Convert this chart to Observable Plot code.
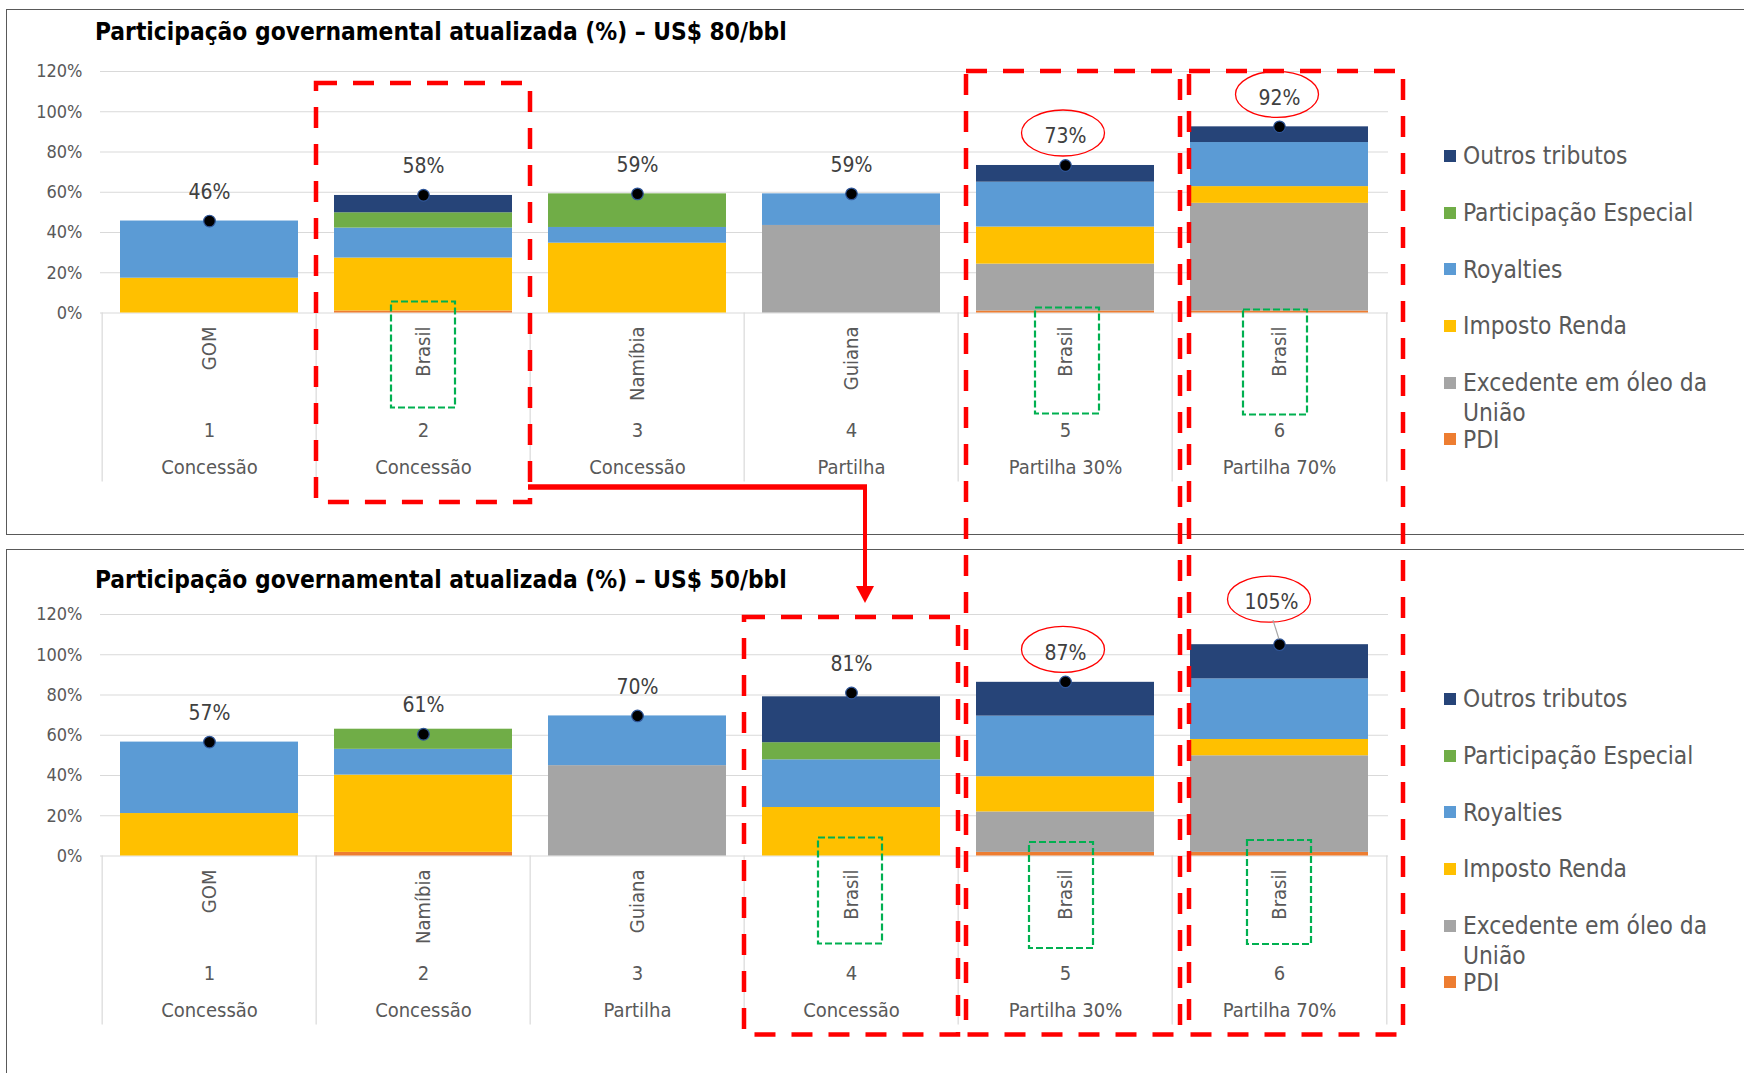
<!DOCTYPE html>
<html>
<head>
<meta charset="utf-8">
<script src="https://cdn.jsdelivr.net/npm/d3@7"></script>
<script src="https://cdn.jsdelivr.net/npm/@observablehq/plot@0.6"></script>
<style>
  body { margin: 0; background: #fff; }
  #page { position: relative; width: 1744px; height: 1073px; overflow: hidden; background: #fff;
          font-family: "DejaVu Sans Condensed", "DejaVu Sans", sans-serif; }
  .panel { position: absolute; border: 1.5px solid #595959; box-sizing: border-box; }
  .title { position: absolute; left: 95px; font-weight: bold; font-size: 24.3px; line-height: 28px;
           color: #000; white-space: nowrap; }
  .chart { position: absolute; left: 0; }
  .legend-item { position: absolute; left: 1444px; width: 281px; padding-left: 19px; box-sizing: border-box;
                 font-size: 24.3px; line-height: 29.7px; color: #595959; }
  .legend-item .sw { position: absolute; left: 0; top: 8.85px; width: 12px; height: 12px; }
  #overlay { position: absolute; left: 0; top: 0; pointer-events: none; }
</style>
</head>
<body>
<div id="page"></div>
<script>
// ---------------- DATA ----------------
const positions = [1, 2, 3, 4, 5, 6];
const gridTicks = [0, 20, 40, 60, 80, 100, 120];

const seriesNames = ["PDI", "Excedente em óleo da União", "Imposto Renda", "Royalties", "Participação Especial", "Outros tributos"];
const seriesColors = ["#ED7D31", "#A5A5A5", "#FFC000", "#5B9BD5", "#70AD47", "#264478"];

// US$ 80/bbl
const countries80 = ["GOM", "Brasil", "Namíbia", "Guiana", "Brasil", "Brasil"];
const regimes80 = ["Concessão", "Concessão", "Concessão", "Partilha", "Partilha 30%", "Partilha 70%"];
const pdi80 = [0, 1.0, 0, 0, 1.0, 1.0];
const excedente80 = [0, 0, 0, 43.5, 23.3, 53.5];
const impostoRenda80 = [17.3, 26.3, 34.7, 0, 18.4, 8.3];
const royalties80 = [28.4, 14.9, 7.8, 15.7, 22.3, 21.9];
const partEspecial80 = [0, 7.6, 16.7, 0, 0, 0];
const outros80 = [0, 8.6, 0, 0, 8.3, 7.8];
const total80 = [45.7, 58.5, 59.2, 59.2, 73.3, 92.5];
const totalLabels80 = ["46%", "58%", "59%", "59%", "73%", "92%"];

// US$ 50/bbl
const countries50 = ["GOM", "Namíbia", "Guiana", "Brasil", "Brasil", "Brasil"];
const regimes50 = ["Concessão", "Concessão", "Partilha", "Concessão", "Partilha 30%", "Partilha 70%"];
const pdi50 = [0, 1.8, 0, 0, 1.8, 1.8];
const excedente50 = [0, 0, 44.9, 0, 20.1, 48.0];
const impostoRenda50 = [21.1, 38.4, 0, 24.1, 17.5, 8.1];
const royalties50 = [35.5, 12.8, 24.7, 23.7, 30.1, 30.1];
const partEspecial50 = [0, 10.0, 0, 8.5, 0, 0];
const outros50 = [0, 0, 0, 22.8, 16.8, 17.0];
const total50 = [56.6, 60.5, 69.6, 81.0, 86.5, 105.0];
const totalLabels50 = ["57%", "61%", "70%", "81%", "87%", "105%"];

// ---------------- LAYOUT ----------------
const FONT = '"DejaVu Sans Condensed", "DejaVu Sans", sans-serif';
const W = 1400, ML = 100, MR = 12, MB = 200, INNER_H = 241.5;

const panels = [
  { title: "Participação governamental atualizada (%) – US$ 80/bbl", titleTop: 18.2, boxTop: 9, boxH: 526,
    top: 40, mt: 31, countries: countries80, regimes: regimes80,
    series: [pdi80, excedente80, impostoRenda80, royalties80, partEspecial80, outros80],
    total: total80, labels: totalLabels80, raised: null },
  { title: "Participação governamental atualizada (%) – US$ 50/bbl", titleTop: 565.5, boxTop: 549, boxH: 600,
    top: 585, mt: 29, countries: countries50, regimes: regimes50,
    series: [pdi50, excedente50, impostoRenda50, royalties50, partEspecial50, outros50],
    total: total50, labels: totalLabels50, raised: 6 }
];

const page = document.getElementById("page");

function makeChart(cfg) {
  const rows = positions.map((p, i) => ({ pos: p, country: cfg.countries[i], regime: cfg.regimes[i],
                                          total: cfg.total[i], label: cfg.labels[i] }));
  const long = [];
  cfg.series.forEach((vals, s) => positions.forEach((p, i) => long.push({ pos: p, series: seriesNames[s], value: vals[i] })));
  const H = cfg.mt + INNER_H + MB;
  const step = (W - ML - MR) / positions.length;
  const pxPerUnit = INNER_H / 120;
  const below = -169 / pxPerUnit;
  const normalRows = rows.filter(d => d.pos !== cfg.raised);
  const raisedRows = rows.filter(d => d.pos === cfg.raised);
  return Plot.plot({
    width: W, height: H, marginLeft: ML, marginRight: MR, marginTop: cfg.mt, marginBottom: MB,
    style: { fontFamily: FONT, fontSize: "18px", color: "#595959", background: "transparent", overflow: "visible" },
    x: { type: "band", domain: positions, paddingInner: 0.166, paddingOuter: 0.083, axis: null },
    y: { domain: [0, 120], ticks: gridTicks, tickFormat: d => d + "%", tickSize: 0, tickPadding: 18, label: null },
    color: { domain: seriesNames, range: seriesColors },
    marks: [
      Plot.ruleY(gridTicks, { stroke: "#D9D9D9", strokeWidth: 1.2 }),
      Plot.ruleX(positions, { x: d => d, y1: () => 0, y2: () => below, dx: -step / 2, stroke: "#D9D9D9", strokeWidth: 1.2 }),
      Plot.ruleX(positions.slice(-1), { x: d => d, y1: () => 0, y2: () => below, dx: step / 2, stroke: "#D9D9D9", strokeWidth: 1.2 }),
      Plot.barY(long, { x: "pos", y: "value", fill: "series", order: seriesNames }),
      Plot.text(rows, { x: "pos", y: () => 0, text: "country", rotate: -90, textAnchor: "end", dy: 13.5,
                        fontSize: 20, fill: "#595959" }),
      Plot.text(rows, { x: "pos", y: () => 0, text: d => String(d.pos), dy: 117.5, fontSize: 20, fill: "#595959" }),
      Plot.text(rows, { x: "pos", y: () => 0, text: "regime", dy: 155, fontSize: 20, fill: "#595959" }),
      Plot.dot(rows, { x: "pos", y: "total", r: 5.8, fill: "#000", stroke: "#2F5597", strokeWidth: 1.2 }),
      Plot.text(normalRows, { x: "pos", y: "total", text: "label", dy: -29, fontSize: 21, fill: "#404040" }),
      Plot.text(raisedRows, { x: "pos", y: "total", text: "label", dy: -42, dx: -8, fontSize: 21, fill: "#404040" })
    ]
  });
}

const charts = panels.map(cfg => {
  const box = document.createElement("div");
  box.className = "panel";
  box.style.left = "6px"; box.style.top = cfg.boxTop + "px";
  box.style.width = "1760px"; box.style.height = cfg.boxH + "px";
  page.appendChild(box);

  const t = document.createElement("div");
  t.className = "title"; t.style.top = cfg.titleTop + "px"; t.textContent = cfg.title;
  page.appendChild(t);

  const chart = makeChart(cfg);
  chart.classList.add("chart");
  chart.style.top = cfg.top + "px";
  page.appendChild(chart);

  // legend
  const axis0 = cfg.top + chart.scale("y").apply(0);
  seriesNames.slice().reverse().forEach((name, i) => {
    const item = document.createElement("div");
    item.className = "legend-item";
    const cy = axis0 - 156.5 + i * 56.7;
    item.style.top = (cy - 29.7 / 2) + "px";
    const sw = document.createElement("span");
    sw.className = "sw";
    sw.style.background = seriesColors[seriesNames.indexOf(name)];
    item.appendChild(sw);
    item.appendChild(document.createTextNode(name));
    page.appendChild(item);
  });
  return { chart, cfg };
});

// ---------------- ANNOTATIONS (computed from the chart scales) ----------------
const ov = d3.select(page).append("svg").attr("id", "overlay").attr("width", 1744).attr("height", 1073);

function geom(c) {
  const sx = c.chart.scale("x"), sy = c.chart.scale("y");
  const step = sx.apply(2) - sx.apply(1);
  const bw = sx.bandwidth != null ? sx.bandwidth : step * (1 - 0.166);
  const pad = (step - bw) / 2;
  return {
    left: v => sx.apply(v) - pad,
    right: v => sx.apply(v) + bw + pad,
    center: v => sx.apply(v) + bw / 2,
    y: v => c.cfg.top + sy.apply(v),
    axis: c.cfg.top + sy.apply(0)
  };
}
const gT = geom(charts[0]);
const gB = geom(charts[1]);

function redBox(x0, y0, x1, y1) {
  ov.append("rect").attr("x", x0).attr("y", y0).attr("width", x1 - x0).attr("height", y1 - y0)
    .attr("fill", "none").attr("stroke", "#FF0000").attr("stroke-width", 4.5).attr("stroke-dasharray", "21 16");
}
function greenBox(cx, y0, y1) {
  ov.append("rect").attr("x", cx - 32).attr("y", y0).attr("width", 64).attr("height", y1 - y0)
    .attr("fill", "none").attr("stroke", "#00B050").attr("stroke-width", 2.2).attr("stroke-dasharray", "7 3");
}
function ellipse(cx, cy) {
  ov.append("ellipse").attr("cx", cx).attr("cy", cy).attr("rx", 41.5).attr("ry", 23)
    .attr("fill", "none").attr("stroke", "#FF0000").attr("stroke-width", 1.3);
}

// green boxes around "Brasil"
greenBox(gT.center(2), gT.axis - 11, gT.axis + 95);
greenBox(gT.center(5) + 2, gT.axis - 5, gT.axis + 101);
greenBox(gT.center(6) - 4, gT.axis - 3, gT.axis + 102);
greenBox(gB.center(4) - 1, gB.axis - 18, gB.axis + 88);
greenBox(gB.center(5) - 4, gB.axis - 13.5, gB.axis + 92.5);
greenBox(gB.center(6), gB.axis - 15.5, gB.axis + 88.5);

// ellipses around highlighted totals
ellipse(gT.center(5) - 2, gT.y(total80[4]) - 29 - 3);
ellipse(gT.center(6) - 2, gT.y(total80[5]) - 29 - 3);
ellipse(gB.center(5) - 2, gB.y(total50[4]) - 29 - 3);
const lx = gB.center(6) - 8, ly = gB.y(total50[5]) - 42;
ellipse(lx - 2, ly - 3);
ov.append("line").attr("x1", lx + 2).attr("y1", ly + 18).attr("x2", gB.center(6)).attr("y2", gB.y(total50[5]) - 5)
  .attr("stroke", "#A6A6A6").attr("stroke-width", 1.2);

// red dashed boxes
redBox(gT.left(2), gT.y(114), gT.right(2), gT.axis + 189.5);
redBox(gT.left(5) + 8, gT.y(120), gT.left(6) + 8, gB.axis + 179);
redBox(gT.left(6) + 17, gT.y(120), gT.right(6) + 17, gB.axis + 179);
redBox(gB.left(4), gB.y(118.5), gB.right(4), gB.axis + 179);

// arrow
const ay = gT.axis + 174.5;
const ax = gB.center(4) + 14;
const tipY = gB.y(118.5) - 14;
ov.append("line").attr("x1", gT.right(2) - 2).attr("y1", ay).attr("x2", ax + 2).attr("y2", ay)
  .attr("stroke", "#FF0000").attr("stroke-width", 5.5);
ov.append("line").attr("x1", ax).attr("y1", ay).attr("x2", ax).attr("y2", tipY - 15)
  .attr("stroke", "#FF0000").attr("stroke-width", 4);
ov.append("polygon").attr("points", `${ax - 9},${tipY - 17} ${ax + 9},${tipY - 17} ${ax},${tipY}`).attr("fill", "#FF0000");
</script>
</body>
</html>
